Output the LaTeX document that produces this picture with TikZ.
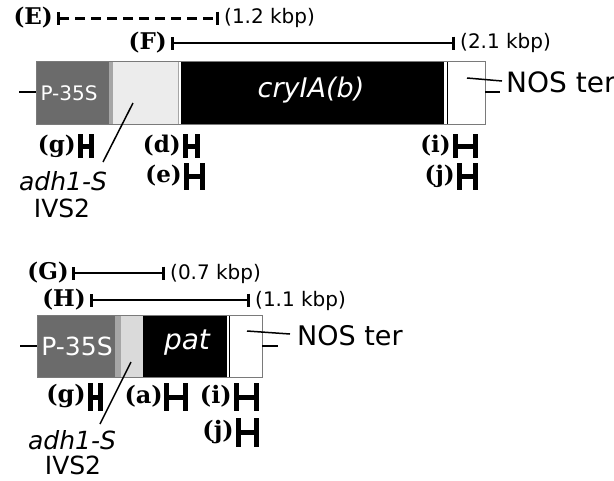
\documentclass[tikz,border=0pt]{standalone}
\usepackage{fontspec}
\setmainfont{DejaVu Serif}
\newfontfamily\sfam{DejaVu Sans}
\usetikzlibrary{arrows.meta}
\definecolor{promgray}{HTML}{6B6B6B}
\definecolor{sepgray}{HTML}{A6A6A6}
\definecolor{intgray}{HTML}{ECECEC}
\definecolor{intgrayb}{HTML}{DADADA}
\definecolor{edgegray}{HTML}{7A7A7A}
\tikzset{
  lbl/.style={inner sep=0pt, anchor=east, font=\bfseries\fontsize{23}{25}\selectfont},
  lblb/.style={lbl, font=\bfseries\fontsize{24}{26}\selectfont},
  kbp/.style={inner sep=0pt, anchor=west, font=\sfam\fontsize{20}{22}\selectfont},
  rng/.style={line width=2.6pt, {Bar[width=13pt,line width=3pt]}-{Bar[width=13pt,line width=3pt]}},
  rngd/.style={rng, line width=3pt, dash pattern=on 10pt off 6pt},
  hm/.style={line width=5pt},
  lead/.style={line width=2pt},
  ptr/.style={line width=1.5pt},
  segedge/.style={draw=edgegray, line width=1pt},
  nos/.style={inner sep=0pt, anchor=west, font=\sfam\fontsize{28}{30}\selectfont},
  adh/.style={inner sep=0pt, font=\sfam\fontsize{25}{27}\selectfont},
}
\newcommand\hmk[4]{\draw[hm] (#1,#3) -- (#1,#4) (#1,{(#3+#4)/2}) -- (#2,{(#3+#4)/2}) (#2,#3) -- (#2,#4);}
\begin{document}
\begin{tikzpicture}[x=1pt,y=-1pt]
\useasboundingbox (0,0) rectangle (614,480);
\fill[white] (0,0) rectangle (614,480);

% ---------------- top construct ----------------
\node[lbl] (lE) at (53,18) {(E)};
\coordinate (e1) at (57,18); \coordinate (e2) at (219,18);
\draw[rngd] (e1) -- (e2);
\node[kbp] (tE) at (224,18) {(1.2 kbp)};

\node[lbl] (lF) at (167,43) {(F)};
\coordinate (f1) at (171,43); \coordinate (f2) at (455,43);
\draw[rng] (f1) -- (f2);
\node[kbp] (tF) at (460,43) {(2.1 kbp)};

% box
\fill[promgray] (36,61) rectangle (109,124);
\fill[sepgray] (109,61) rectangle (113,124);
\fill[intgray] (113,61) rectangle (178,124);
\fill[white] (178,61) rectangle (181,124);
\draw[sepgray, line width=0.8pt] (178,61) -- (178,124);
\fill[black] (181,61) rectangle (444,124);
\fill[white] (444,61) rectangle (485,124);
\draw[black, line width=1pt] (447,61) -- (447,124);
\draw[segedge] (36,61) rectangle (485,124);

\node[inner sep=0pt, text=white, font=\sfam\fontsize{20}{22}\selectfont] (p1) at (69,93) {P-35S};
\node[inner sep=0pt, text=white, font=\sfam\itshape\fontsize{27}{29}\selectfont] (c1) at (311,90) {cryIA(b)};

\coordinate (ll1a) at (19,92); \coordinate (ll1b) at (36,92);
\draw[lead] (ll1a) -- (ll1b);
\coordinate (rl1a) at (485,92); \coordinate (rl1b) at (500,92);
\draw[lead] (rl1a) -- (rl1b);
\node[nos] (n1) at (506,82) {NOS ter};
\coordinate (np1) at (467,78);
\coordinate (np1e) at (502,81);
\draw[ptr] (np1) -- (np1e);

\node[lbl] (g1) at (76,146) {(g)};
\hmk{80}{91}{134}{158}
\node[lbl] (d1) at (181,146) {(d)};
\hmk{185}{197}{134}{158}
\node[lbl] (e1l) at (182,176) {(e)};
\hmk{186}{202}{163}{190}
\node[lbl] (i1) at (451,146) {(i)};
\hmk{455}{475}{134}{158}
\node[lbl] (j1) at (455,176) {(j)};
\hmk{459}{475}{163}{190}

\coordinate (a1p) at (133,103);
\coordinate (a1q) at (103,162);
\node[adh] (adh1) at (63,181) {\itshape adh1-S};
\node[adh] (ivs1) at (62,208) {IVS2};
\draw[ptr] (a1p) -- (a1q);

% ---------------- bottom construct ----------------
\node[lbl] (lG) at (69,273) {(G)};
\coordinate (g1a) at (72,273); \coordinate (g1b) at (165,273);
\draw[rng] (g1a) -- (g1b);
\node[kbp] (tG) at (170,274) {(0.7 kbp)};

\node[lbl] (lH) at (86,300) {(H)};
\coordinate (h1a) at (90,300); \coordinate (h1b) at (250,300);
\draw[rng] (h1a) -- (h1b);
\node[kbp] (tH) at (255,301) {(1.1 kbp)};

\fill[promgray] (37,315) rectangle (115,377);
\fill[sepgray] (115,315) rectangle (121,377);
\fill[intgrayb] (121,315) rectangle (143,377);
\fill[black] (143,315) rectangle (227,377);
\fill[white] (227,315) rectangle (262,377);
\draw[black, line width=1pt] (229.5,315) -- (229.5,377);
\draw[segedge] (37,315) rectangle (262,377);

\node[inner sep=0pt, text=white, font=\sfam\fontsize{25}{27}\selectfont] (p2) at (77,346) {P-35S};
\node[inner sep=0pt, text=white, font=\sfam\itshape\fontsize{28}{30}\selectfont] (pat) at (187,343) {pat};

\coordinate (ll2a) at (20,346); \coordinate (ll2b) at (37,346);
\draw[lead] (ll2a) -- (ll2b);
\coordinate (rl2a) at (262,346); \coordinate (rl2b) at (278,346);
\draw[lead] (rl2a) -- (rl2b);
\node[nos, font=\sfam\fontsize{27}{29}\selectfont] (n2) at (297,336) {NOS ter};
\coordinate (np2) at (247,331);
\coordinate (np2e) at (290,334);
\draw[ptr] (np2) -- (np2e);

\node[lblb] (g2) at (86,396) {(g)};
\hmk{90}{100}{383}{411}
\node[lblb] (a2) at (163,396) {(a)};
\hmk{166}{185}{383}{411}
\node[lblb] (i2) at (232,396) {(i)};
\hmk{236}{256}{383}{411}
\node[lblb] (j2) at (234,432) {(j)};
\hmk{238}{256}{418}{447}

\coordinate (a2p) at (131,362);
\coordinate (a2q) at (100,424);
\node[adh] (adh2) at (72,440) {\itshape adh1-S};
\node[adh] (ivs2) at (73,465) {IVS2};
\draw[ptr] (a2p) -- (a2q);
\end{tikzpicture}
\end{document}
